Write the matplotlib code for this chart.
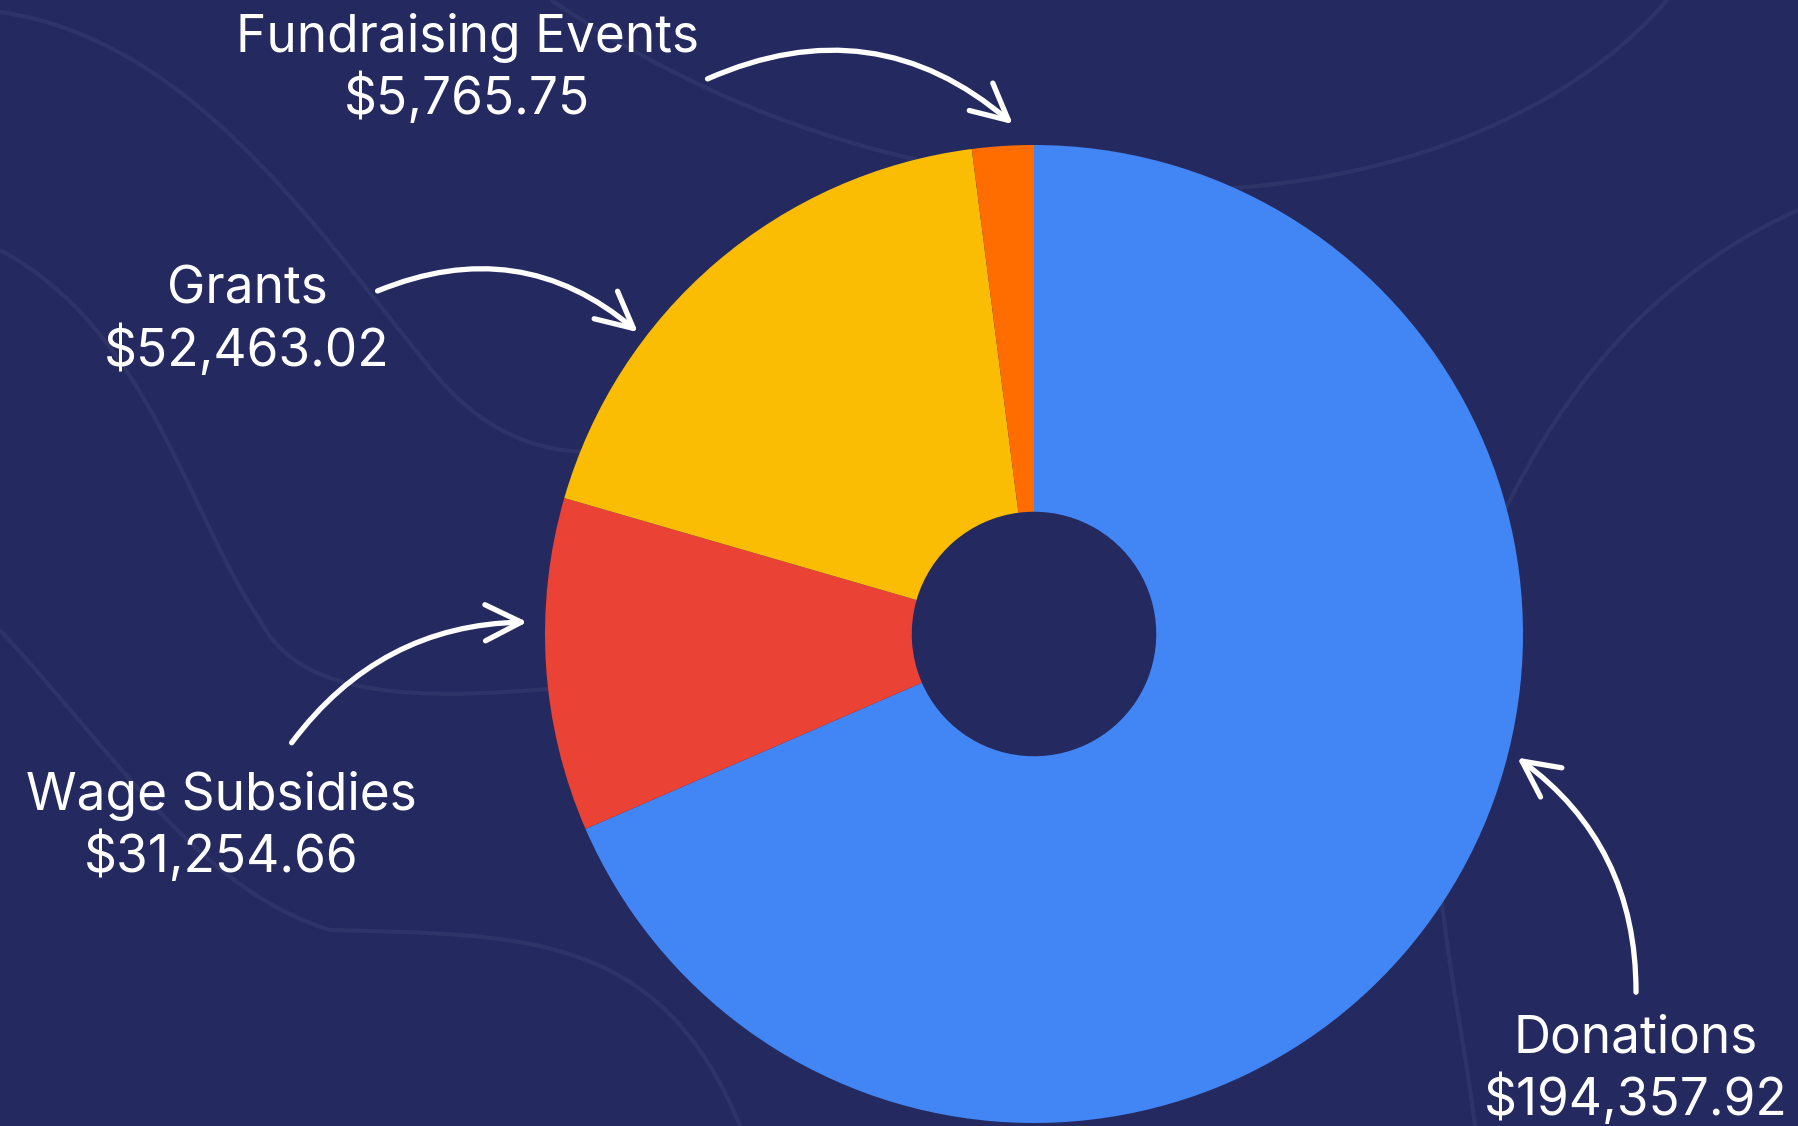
import matplotlib.pyplot as plt
from matplotlib.patches import FancyArrowPatch, PathPatch
from matplotlib.path import Path

# revenue sources, clockwise from the top
sources = ['Donations', 'Wage Subsidies', 'Grants', 'Fundraising Events']
amounts = [194357.92, 31254.66, 52463.02, 5765.75]
colors = ['#4285F4', '#EA4335', '#FBBC04', '#FF6D01']

W, H = 1798, 1126
bg = '#242A5F'

fig = plt.figure(figsize=(W / 100, H / 100), dpi=100, facecolor=bg)

# overlay in pixel coords (y down) for the background swirls, labels and arrows
ov = fig.add_axes([0, 0, 1, 1])
ov.set_xlim(0, W)
ov.set_ylim(H, 0)
ov.axis('off')
ov.set_facecolor(bg)

# faint decorative lines in the background
swirl = '#2E3468'
curves = [
    [(0, 12), (200, 40), (330, 250), (440, 380), (520, 470), (600, 450), (640, 450)],
    [(0, 250), (150, 330), (190, 520), (260, 620), (300, 700), (420, 700), (560, 688)],
    [(0, 630), (120, 760), (200, 890), (330, 930), (520, 935), (660, 930), (740, 1126)],
    [(551, 0), (700, 100), (900, 190), (1200, 190), (1450, 180), (1600, 80), (1667, 0)],
    [(1798, 210), (1600, 300), (1500, 480), (1440, 680), (1420, 860), (1460, 1000), (1475, 1126)],
]
for pts in curves:
    codes = [Path.MOVETO] + [Path.CURVE4] * (len(pts) - 1)
    ov.add_patch(PathPatch(Path(pts, codes), fc='none', ec=swirl, lw=3, zorder=0))

# donut chart
cx, cy, r = 1034, 634, 489
pie_ax = fig.add_axes([(cx - r) / W, (H - cy - r) / H, 2 * r / W, 2 * r / H])
pie_ax.pie(amounts, colors=colors, startangle=90, counterclock=False,
           radius=1, wedgeprops=dict(width=0.75, linewidth=0))
pie_ax.set_xlim(-1, 1)
pie_ax.set_ylim(-1, 1)
pie_ax.axis('off')

# labels: name on top, amount below
label_pos = {
    'Fundraising Events': (467, 38),
    'Grants': (247, 290),
    'Wage Subsidies': (221, 796),
    'Donations': (1636, 1039),
}
font = dict(family=['Inter', 'DejaVu Sans'], color='white', fontsize=37,
            ha='center', va='center')
for name, val in zip(sources, amounts):
    x, y = label_pos[name]
    ov.text(x, y, name, **font)
    ov.text(x, y + 61, f'${val:,.2f}', **font)

# hand-drawn style arrows
arrows = [
    ((705, 80), (1015, 126), -0.32),
    ((375, 292), (640, 334), -0.31),
    ((290, 745), (530, 622), -0.25),
    ((1636, 995), (1515, 756), 0.26),
]
for a, b, rad in arrows:
    ov.add_patch(FancyArrowPatch(a, b, connectionstyle=f'arc3,rad={rad}',
                                 arrowstyle='->,head_length=1.3,head_width=0.65',
                                 mutation_scale=20, color='white', lw=3.8,
                                 capstyle='round', joinstyle='round'))

fig.savefig('out.png', dpi=100, facecolor=bg)
